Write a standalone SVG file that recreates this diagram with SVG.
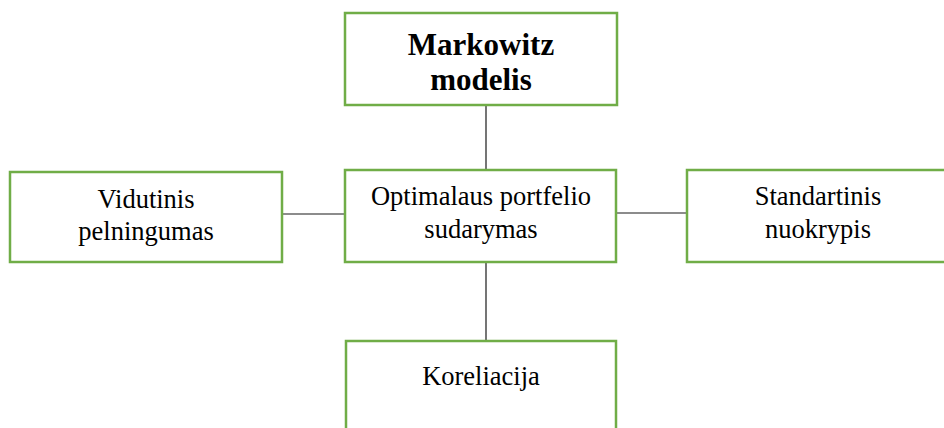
<svg xmlns="http://www.w3.org/2000/svg" width="944" height="428" viewBox="0 0 944 428">
<style>
.box{fill:#fff;stroke:#70AD47;stroke-width:2.5}
text{font-family:'Liberation Serif','Times New Roman',Times,serif;font-size:26.5px;fill:#000;text-anchor:middle}
.b{font-weight:bold;font-size:31px}
.c{stroke:#1a1a1a;stroke-width:1.2;fill:none}
</style>
<rect width="944" height="428" fill="#fff"/>
<g id="connectors">
<line class="c" x1="486" y1="105" x2="486" y2="170"/>
<line class="c" x1="282" y1="214" x2="345" y2="214"/>
<line class="c" x1="617" y1="213" x2="687" y2="213"/>
<line class="c" x1="486" y1="262" x2="486" y2="341"/>
</g>
<g id="markowitz">
<rect class="box" x="345" y="13" width="272" height="92"/>
<text class="b" x="481" y="55">Markowitz</text>
<text class="b" x="481" y="90">modelis</text>
</g>
<g id="optimalaus">
<rect class="box" x="345" y="170" width="271" height="92"/>
<text x="481" y="205">Optimalaus portfelio</text>
<text x="481" y="238">sudarymas</text>
</g>
<g id="vidutinis">
<rect class="box" x="10" y="172" width="272" height="90"/>
<text x="146" y="208">Vidutinis</text>
<text x="146" y="240">pelningumas</text>
</g>
<g id="standartinis">
<rect class="box" x="687" y="170" width="265" height="92"/>
<text x="818" y="205">Standartinis</text>
<text x="818" y="238">nuokrypis</text>
</g>
<g id="koreliacija">
<rect class="box" x="346" y="341" width="270" height="100"/>
<text x="481" y="385">Koreliacija</text>
</g>
</svg>
